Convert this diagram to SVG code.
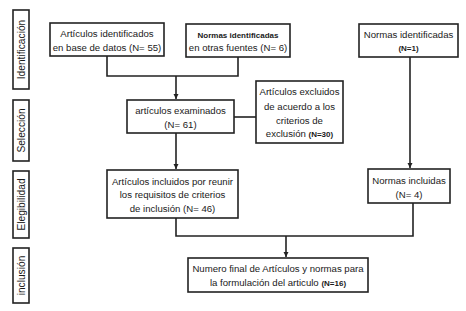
<svg xmlns="http://www.w3.org/2000/svg" width="466" height="311" viewBox="0 0 466 311">
<style>
.box{fill:#fff;stroke:#222;stroke-width:1.6}
.t{font-family:"Liberation Sans",Arial,sans-serif;font-size:9.6px;fill:#1a1a1a;text-anchor:middle}
.b{font-weight:bold;font-size:8px}
.side{font-family:"Liberation Sans",Arial,sans-serif;font-size:10.2px;fill:#1a1a1a;text-anchor:middle}
.ln{fill:none;stroke:#222;stroke-width:1.6}
</style>
<defs>
<marker id="ah" markerWidth="6" markerHeight="6" refX="5" refY="3" orient="auto" markerUnits="userSpaceOnUse">
<path d="M0,0.5 L5,3 L0,5.5 Z" fill="#222"/>
</marker>
</defs>
<rect width="466" height="311" fill="#fff"/>
<g id="phase-identificacion"><rect class="box" x="13" y="10" width="16" height="79"/><text class="side" transform="translate(24.8,49.5) rotate(-90)">Identificación</text></g>
<g id="phase-seleccion"><rect class="box" x="13" y="100" width="16" height="61"/><text class="side" transform="translate(24.8,130.5) rotate(-90)">Selección</text></g>
<g id="phase-elegibilidad"><rect class="box" x="13" y="171" width="16" height="67"/><text class="side" transform="translate(24.8,204.5) rotate(-90)">Elegibilidad</text></g>
<g id="phase-inclusion"><rect class="box" x="13" y="248" width="16" height="55"/><text class="side" transform="translate(24.8,275.5) rotate(-90)">inclusión</text></g>
<g id="connectors">
<polyline class="ln" points="107,56 107,76 238,76 238,57"/>
<line class="ln" x1="176" y1="76" x2="176" y2="99" marker-end="url(#ah)"/>
<line class="ln" x1="234" y1="117" x2="256" y2="117"/>
<line class="ln" x1="176" y1="133" x2="176" y2="169" marker-end="url(#ah)"/>
<line class="ln" x1="410" y1="57" x2="410" y2="168" marker-end="url(#ah)"/>
<polyline class="ln" points="176,218 176,236 413,236 413,203"/>
<line class="ln" x1="286" y1="236" x2="286" y2="257" marker-end="url(#ah)"/>
</g>
<g id="n1"><rect class="box" x="50" y="23" width="114" height="33"/><text class="t" x="107" y="37">Artículos identificados</text><text class="t" x="107" y="50.5">en base de datos  (N= 55)</text></g>
<g id="n2"><rect class="box" x="186" y="24" width="104" height="33"/><text class="t b" x="238" y="37.5">Normas identificadas</text><text class="t" x="238" y="51">en otras fuentes (N= 6)</text></g>
<g id="n3"><rect class="box" x="359" y="24" width="99" height="33"/><text class="t" x="408.5" y="38">Normas identificadas</text><text class="t b" x="408.5" y="51">(N=1)</text></g>
<g id="n4"><rect class="box" x="127" y="100" width="107" height="33"/><text class="t" x="180.5" y="114">artículos examinados</text><text class="t" x="180.5" y="127.5">(N= 61)</text></g>
<g id="n5"><rect class="box" x="256" y="81" width="87" height="62"/><text class="t" x="299.5" y="95">Artículos excluidos</text><text class="t" x="299.5" y="110">de acuerdo a los</text><text class="t" x="299.5" y="124">criterios de</text><text class="t" x="299.5" y="137">exclusión <tspan class="b">  (N=30)</tspan></text></g>
<g id="n6"><rect class="box" x="107" y="170" width="131" height="48"/><text class="t" x="172.5" y="184.5">Artículos incluidos por reunir</text><text class="t" x="172.5" y="198">los requisitos de criterios</text><text class="t" x="172.5" y="212">de inclusión (N= 46)</text></g>
<g id="n7"><rect class="box" x="368" y="169" width="82" height="34"/><text class="t" x="409" y="184">Normas incluidas</text><text class="t" x="409" y="197.5">(N= 4)</text></g>
<g id="n8"><rect class="box" x="188" y="258" width="180" height="34"/><text class="t" x="278" y="272">Numero final de Artículos y normas para</text><text class="t" x="278" y="286">la formulación del articulo  <tspan class="b">(N=16)</tspan></text></g>
</svg>
